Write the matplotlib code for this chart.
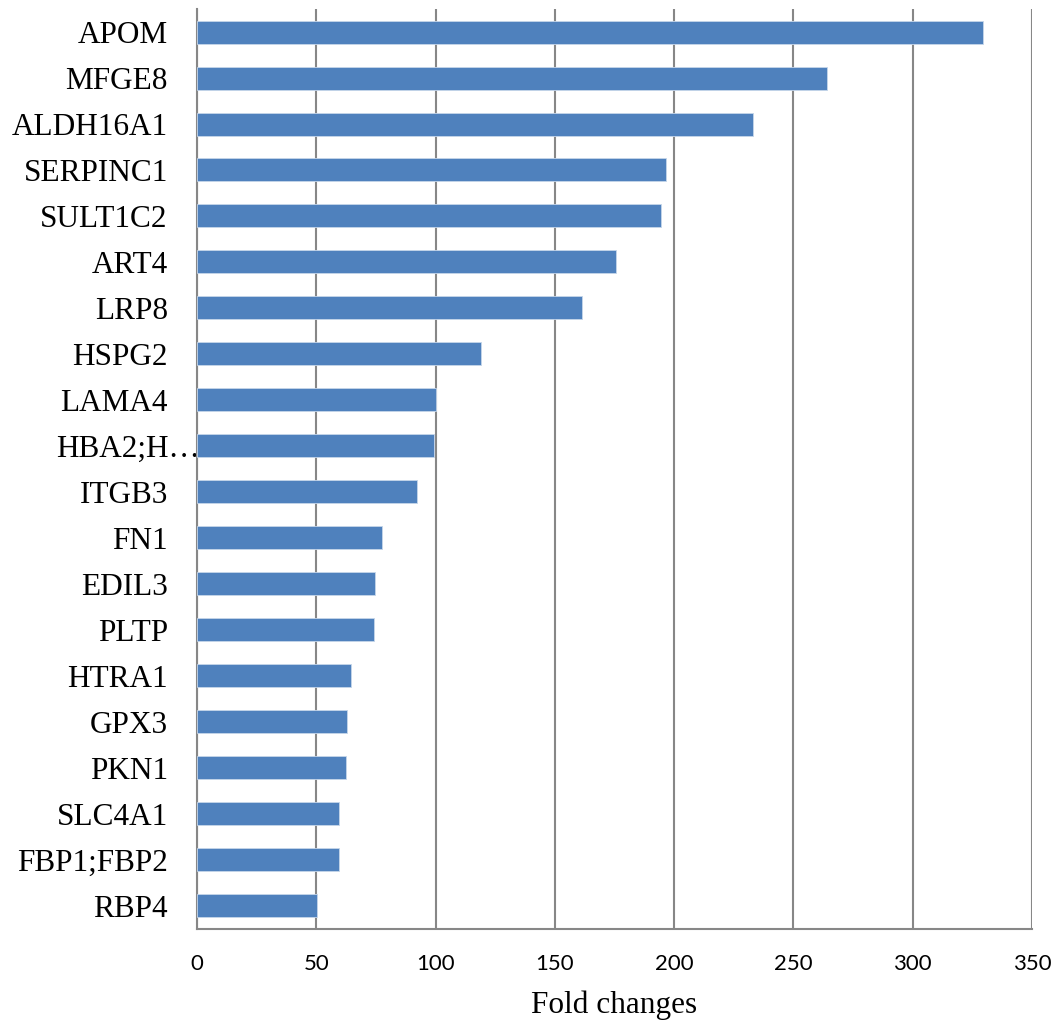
import matplotlib
matplotlib.use("Agg")
import matplotlib.pyplot as plt

# Proteins and their fold changes, top to bottom
genes = ["APOM", "MFGE8", "ALDH16A1", "SERPINC1", "SULT1C2", "ART4", "LRP8",
         "HSPG2", "LAMA4", "HBA2;H\u2026", "ITGB3", "FN1", "EDIL3", "PLTP",
         "HTRA1", "GPX3", "PKN1", "SLC4A1", "FBP1;FBP2", "RBP4"]
fold_changes = [329.3, 264.0, 233.2, 196.4, 194.5, 175.6, 161.4,
                119.0, 100.2, 99.3, 92.2, 77.5, 74.6, 74.2,
                64.5, 62.9, 62.4, 59.5, 59.5, 50.3]
x_ticks = [0, 50, 100, 150, 200, 250, 300, 350]

bar_color = "#4F81BD"
grid_color = "#878787"

fig = plt.figure(figsize=(10.57, 10.23), dpi=100)
ax = fig.add_axes([0.1864, 0.0919, 0.7899, 0.8993])

ypos = list(range(len(genes)))
ax.barh(ypos, fold_changes, height=0.5, color=bar_color,
        edgecolor="#c6d6ea", linewidth=0.6, zorder=3)

ax.set_ylim(len(genes) - 0.5, -0.5)
ax.set_xlim(0, 350)
ax.set_xticks(x_ticks)
ax.set_xticklabels([str(t) for t in x_ticks], fontfamily="Lato", fontsize=16)
ax.set_yticks(ypos)
ax.set_yticklabels(genes, fontfamily="Liberation Serif", fontsize=22.5)

ax.tick_params(axis="x", length=0, pad=18)
ax.tick_params(axis="y", length=0, pad=21)
# the truncated label runs up to the axis line
ax.yaxis.get_major_ticks()[genes.index("HBA2;H\u2026")].set_pad(-2)

ax.grid(axis="x", color=grid_color, linewidth=1.5, zorder=0)
for side in ("top", "right"):
    ax.spines[side].set_visible(False)
for side in ("left", "bottom"):
    ax.spines[side].set_color(grid_color)
    ax.spines[side].set_linewidth(1.5)

ax.set_xlabel("Fold changes", fontfamily="Liberation Serif", fontsize=22.5, labelpad=12)

fig.savefig("out.png", dpi=100, facecolor="white")
